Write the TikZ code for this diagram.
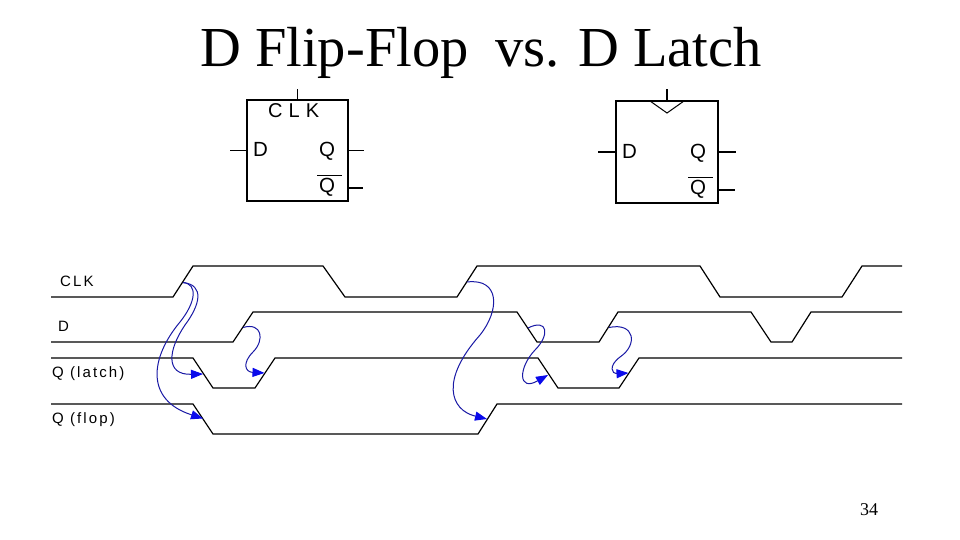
\documentclass[tikz,border=0pt]{standalone}
\usepackage{fontspec}
\setmainfont{Liberation Serif}
\newfontfamily\sigfont[LetterSpace=14]{Liberation Sans}
\newfontfamily\boxfont{Liberation Sans}
\newfontfamily\clkfont[LetterSpace=30]{Liberation Sans}
\usetikzlibrary{arrows.meta}
\definecolor{curvecol}{RGB}{25,25,165}
\definecolor{headcol}{RGB}{10,10,235}
\begin{document}
\begin{tikzpicture}[x=1pt,y=-1pt,
  wave/.style={line width=1.2pt, line join=miter},
  wire/.style={line width=1.2pt},
  blk/.style={draw, line width=1.2pt, inner sep=0pt},
  lbl/.style={anchor=base west, inner sep=0pt},
  sig/.style={lbl, font=\sigfont\fontsize{15}{17}\selectfont},
  pin/.style={lbl, font=\boxfont\fontsize{20.5}{22}\selectfont},
  cause/.style={draw=curvecol, line width=1pt,
    -{Triangle[length=12pt,width=9pt,color=headcol]}}
]
\useasboundingbox (0,0) rectangle (960,540);
\fill[white] (0,0) rectangle (960,540);

% title and page number
\node[lbl, font=\fontsize{56.5}{60}\selectfont] (t1) at (200,67) {D Flip-Flop};
\node[lbl, font=\fontsize{56.5}{60}\selectfont] (t2) at (495,67) {vs. D Latch};
\node[lbl, font=\fontsize{18}{20}\selectfont] (pg) at (860,515) {34};

% latch symbol
\node[blk, minimum width=101pt, minimum height=101pt] (latch) at (297.5,150.5) {};
\draw[wire] (latch.north) -- ++(0,-10);
\draw[wire] (latch.west) -- ++(-16,0);
\draw[wire] (latch.east) -- ++(15,0);
\coordinate (latQb) at (348,188);
\draw[wire] (latQb) -- ++(15,0);
\node[lbl, font=\clkfont\fontsize{20}{22}\selectfont] (latclk) at (268,118) {CLK};
\node[pin] (latd) at (253,157) {D};
\node[pin] (latq) at (319,157) {Q};
\node[pin] (latqb) at (319,193) {Q};
\draw[line width=1pt] (317,176) -- (342,176);

% flip-flop symbol
\node[blk, minimum width=102pt, minimum height=102pt] (flop) at (667,152) {};
\draw[wire] (flop.north) -- ++(0,-11);
\draw[wire] (flop.west) -- ++(-17,0);
\draw[wire] (flop.east) -- ++(17,0);
\coordinate (flopQb) at (718,190);
\draw[wire] (flopQb) -- ++(17,0);
\draw[line width=1pt] (650,101) -- (667,113) -- (684,101);
\node[pin] (flopd) at (622,158.5) {D};
\node[pin] (flopq) at (690,158.5) {Q};
\node[pin] (flopqb) at (690,194.5) {Q};
\draw[line width=1pt] (688,178) -- (713,178);

% signal names
\node[sig] (nclk) at (60,286) {CLK};
\node[sig] (nd) at (58,331) {D};
\node[sig] (nql) at (52,377) {Q (latch)};
\node[sig] (nqf) at (52,423) {Q (flop)};

% waveforms
\draw[wave] (51,297) -- (173,297) -- (193,266) -- (323,266) -- (345,297) -- (457,297) -- (477,266) -- (700,266) -- (720,297) -- (842,297) -- (862,266) -- (902,266);
\draw[wave] (51,342) -- (233,342) -- (253,312) -- (517,312) -- (537,342) -- (599,342) -- (618,312) -- (751,312) -- (771,342) -- (792,342) -- (811,312) -- (902,312);
\draw[wave] (51,358) -- (193,358) -- (213,388) -- (255,388) -- (275,358) -- (538,358) -- (558,388) -- (619,388) -- (639,358) -- (902,358);
\draw[wave] (51,404) -- (193,404) -- (213,434) -- (478,434) -- (497,404) -- (902,404);

% edge points
\coordinate (clkR1) at (183,282.5);
\coordinate (clkR2) at (467,282);
\coordinate (dR1) at (243,327.5);
\coordinate (dF) at (528,328);
\coordinate (dR2) at (609,327.5);
\coordinate (latF1) at (203,374);
\coordinate (latR1) at (264.5,373);
\coordinate (latF2) at (548,375);
\coordinate (latR2) at (628.5,373);
\coordinate (flopF1) at (203,418.5);
\coordinate (flopR) at (487,419);

% causality arrows
\draw[cause] (clkR1) .. controls (205,285) and (200,305) .. (185,325) .. controls (168,350) and (165,375) .. (latF1);
\draw[cause] (clkR1) .. controls (198,284) and (196,302) .. (180,322) .. controls (150,358) and (145,400) .. (flopF1);
\draw[cause] (dR1) .. controls (262,322) and (265,340) .. (253,352) .. controls (242,363) and (245,372) .. (latR1);
\draw[cause] (clkR2) .. controls (500,278) and (500,310) .. (480,335) .. controls (440,380) and (450,410) .. (flopR);
\draw[cause] (dF) .. controls (548,318) and (550,335) .. (535,350) .. controls (518,368) and (518,392) .. (latF2);
\draw[cause] (dR2) .. controls (635,322) and (638,345) .. (620,357) .. controls (608,366) and (612,374) .. (latR2);
\end{tikzpicture}
\end{document}
